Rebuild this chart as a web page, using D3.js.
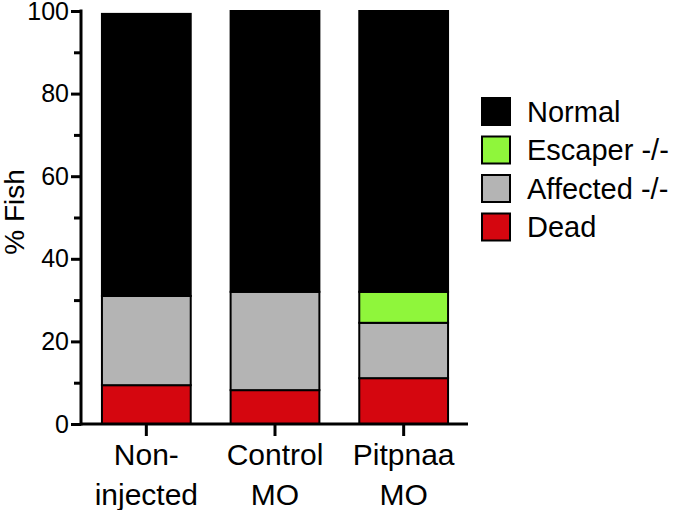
<!DOCTYPE html>
<html><head><meta charset="utf-8">
<script src="https://cdn.jsdelivr.net/npm/d3@7"></script>
<style>body{margin:0;background:#fff}svg{display:block}text{font-family:"Liberation Sans",Arial,sans-serif;fill:#000}</style>
</head><body><svg id="c" width="680" height="510"></svg>
<script>
const categories = [["Non-","injected"],["Control","MO"],["Pitpnaa","MO"]];
const seriesNames = ["Dead","Affected -/-","Escaper -/-","Normal"];
const dead     = [9.4, 8.2, 11.1];
const affected = [21.6, 23.8, 13.4];
const escaper  = [0, 0, 7.5];
const normal   = [68.3, 68.0, 68.0];
const colors   = ["#d5060f","#b4b4b4","#8ff63b","#000000"];
const majorTicks = [0,20,40,60,80,100];
const minorTicks = [10,30,50,70,90];
const legendOrder = ["Normal","Escaper -/-","Affected -/-","Dead"];

const svg = d3.select("#c");
const x = d3.scaleBand().domain([0,1,2]).range([82,468]).paddingInner(0.31).paddingOuter(0.155);
const y = d3.scaleLinear().domain([0,100]).range([424,11]);

const rows = [0,1,2].map(i => ({i, Dead:dead[i], "Affected -/-":affected[i], "Escaper -/-":escaper[i], Normal:normal[i]}));
const stacked = d3.stack().keys(seriesNames)(rows);
const color = d3.scaleOrdinal().domain(seriesNames).range(colors);

svg.append("g").selectAll("g").data(stacked).join("g")
  .attr("fill", d => color(d.key))
  .selectAll("rect").data(d => d.filter(p => p[1]-p[0] > 0)).join("rect")
  .attr("x", d => x(d.data.i))
  .attr("width", x.bandwidth())
  .attr("y", d => y(d[1]))
  .attr("height", d => y(d[0]) - y(d[1]))
  .attr("stroke","#000").attr("stroke-width",2);

// y axis
const ya = svg.append("g").attr("transform","translate(81,0)")
  .call(d3.axisLeft(y).tickValues(majorTicks).tickSize(10).tickSizeOuter(0).tickPadding(2).tickFormat(d3.format("d")));
ya.select(".domain").attr("stroke-width",3).attr("d","M0,"+(y(100)-1.5)+"V"+(y(0)+1.5));
ya.selectAll(".tick line").attr("stroke-width",3);
ya.selectAll(".tick text").attr("font-size",25).attr("font-family","Liberation Sans, Arial, sans-serif");
const ym = svg.append("g").attr("transform","translate(81,0)")
  .call(d3.axisLeft(y).tickValues(minorTicks).tickSize(7).tickSizeOuter(0).tickFormat(""));
ym.select(".domain").remove();
ym.selectAll(".tick line").attr("stroke-width",3);

svg.append("text").attr("transform","translate(24,212) rotate(-90)")
  .attr("text-anchor","middle").attr("font-size",28).text("% Fish");

// x axis
const xa = svg.append("g").attr("transform","translate(0,424)")
  .call(d3.axisBottom(x).tickSize(12).tickSizeOuter(0).tickFormat(""));
xa.select(".domain").attr("stroke-width",3).attr("d","M80,0H468");
xa.selectAll(".tick line").attr("stroke-width",3);
xa.selectAll(".tick").each(function(d){
  const t = d3.select(this).append("text").attr("text-anchor","middle").attr("font-size",30).attr("fill","#000");
  categories[d].forEach((s,k) => t.append("tspan").attr("x",0).attr("y", 41 + k*40).text(s));
});

// legend
const lg = svg.append("g");
legendOrder.forEach((name,k) => {
  const yy = 98 + k*38.5;
  lg.append("rect").attr("x",482).attr("y",yy).attr("width",28).attr("height",27)
    .attr("fill",color(name)).attr("stroke","#000").attr("stroke-width",2);
  lg.append("text").attr("x",527).attr("y",yy+13.5).attr("dy","0.36em").attr("font-size",29).text(name);
});
</script></body></html>
